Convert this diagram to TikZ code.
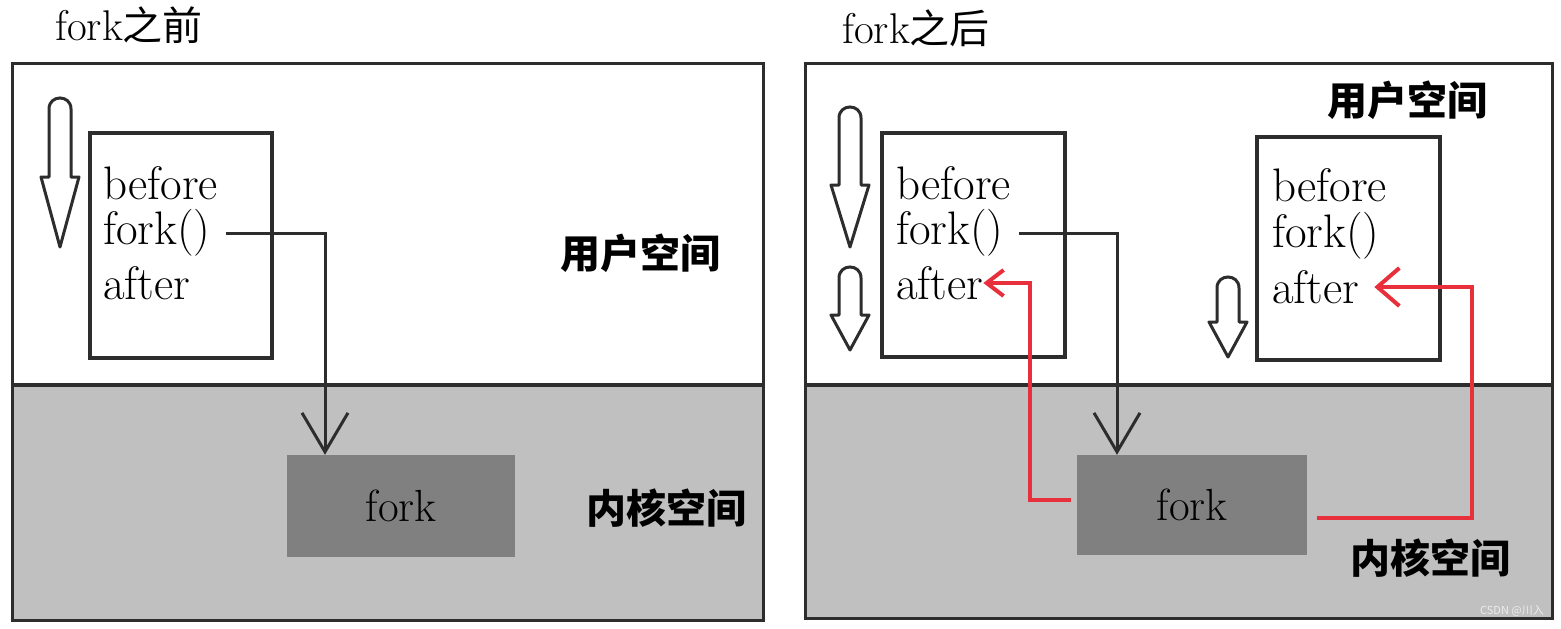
\documentclass[tikz,border=0pt]{standalone}
\usepackage{fontspec}
\newfontfamily\cjk{Noto Sans CJK SC}
\usetikzlibrary{arrows.meta}
\definecolor{edge}{RGB}{45,45,45}
\definecolor{kernelfill}{RGB}{192,192,192}
\definecolor{forkfill}{RGB}{128,128,128}
\definecolor{backred}{RGB}{232,48,60}
\tikzset{
  panel/.style={draw=edge, line width=3pt},
  divider/.style={draw=edge, line width=4pt},
  codebox/.style={draw=edge, fill=white, line width=3.5pt, inner sep=0pt},
  kernelbox/.style={fill=forkfill, inner sep=0pt, font=\fontsize{45}{48}\selectfont},
  code/.style={anchor=west, inner sep=0pt, font=\fontsize{47}{50}\selectfont},
  space/.style={inner sep=0pt, font=\fontsize{40}{44}\selectfont\cjk\bfseries},
  title/.style={anchor=west, inner sep=0pt, font=\fontsize{43}{46}\selectfont},
  call/.style={draw=edge, line width=3pt, -{Straight Barb[length=39pt,width=46pt]}},
  back/.style={draw=backred, line width=4pt},
  flow/.style={draw=edge, fill=white, line width=3pt, line join=round}
}
% hollow arrow: centre x, top, start of head, tip
\newcommand{\flowarrow}[4]{%
  \draw[flow] ({#1-11},#3) -- ({#1-11},{#2+11})
    .. controls ({#1-11},{#2-3.7}) and ({#1+11},{#2-3.7}) .. ({#1+11},{#2+11})
    -- ({#1+11},#3) -- ({#1+19},#3) -- (#1,#4) -- ({#1-19},#3) -- cycle;
}
\begin{document}
\begin{tikzpicture}[x=1pt, y=-1pt]
  \useasboundingbox (0,0) rectangle (1561,629);
  % before fork
  \node[title] (ltitle) at (55,25) {fork{\cjk\fontsize{40}{44}\selectfont 之前}};
  \fill[kernelfill] (12,385) rectangle (763,620);
  \draw[panel] (12,63) rectangle (763,620);
  \draw[divider] (12,385) -- (763,385);
  \node[space] (luser) at (640,253) {用户空间};
  \node[space] (lkern) at (666,508) {内核空间};
  \flowarrow{60}{98}{177}{247}
  \node[codebox, minimum width=182, minimum height=225] (lbox) at (181,245.5) {};
  \node[code] (lbefore) at (103,183) {before};
  \node[code] (lfork) at (103,233) {fork()};
  \node[code] (lafter) at (103,283) {after};
  \node[kernelbox, minimum width=228, minimum height=102] (lkernel) at (401,506) {fork\hspace{14pt}};
  \coordinate (lturn) at (325,233);
  \draw[call, shorten <=15pt] (lfork.east) -- (lturn) -- (lturn |- lkernel.north);

  % after fork
  \node[title] (rtitle) at (842,28) {fork{\cjk\fontsize{40}{44}\selectfont 之后}};
  \fill[kernelfill] (805,385) rectangle (1552,618);
  \draw[panel] (805,63) rectangle (1552,618);
  \draw[divider] (805,385) -- (1552,385);
  \node[space] (ruser) at (1407,100) {用户空间};
  \node[space] (rkern) at (1430,558) {内核空间};
  \flowarrow{850}{107}{185}{247}
  \flowarrow{850}{267}{315}{350}
  \flowarrow{1228}{277}{322}{357}
  \node[codebox, minimum width=183, minimum height=224] (rboxA) at (973.5,245) {};
  \node[code] (rbeforeA) at (896,183) {before};
  \node[code] (rforkA) at (896,233) {fork()};
  \node[code] (rafterA) at (896,283) {after};
  \node[codebox, minimum width=183, minimum height=223] (rboxB) at (1348.5,248.5) {};
  \node[code] (rbeforeB) at (1272,185) {before};
  \node[code] (rforkB) at (1272,236) {fork()};
  \node[code] (rafterB) at (1272,287) {after};
  \node[kernelbox, minimum width=230, minimum height=100] (rkernel) at (1192,505) {fork\hspace{14pt}};
  \coordinate (rturn) at (1117,233);
  \draw[call, shorten <=15pt] (rforkA.east) -- (rturn) -- (rturn |- rkernel.north);
  \coordinate (rupA) at (1030,283);
  \draw[back, -{Straight Barb[length=17pt,width=26pt]}, shorten <=6pt]
    ([yshift=5pt]rkernel.west) -| (rupA) -- (rafterA.east);
  \coordinate (rupB) at (1472,287);
  \draw[back, -{Straight Barb[length=22pt,width=38pt]}, shorten <=10pt, shorten >=15pt]
    ([yshift=-13pt]rkernel.east) -| (rupB) -- (rafterB.east);
  \node[font=\fontsize{11}{12}\selectfont\cjk, text=white!85!gray] (mark) at (1512,611) {CSDN @川入};
\end{tikzpicture}
\end{document}
